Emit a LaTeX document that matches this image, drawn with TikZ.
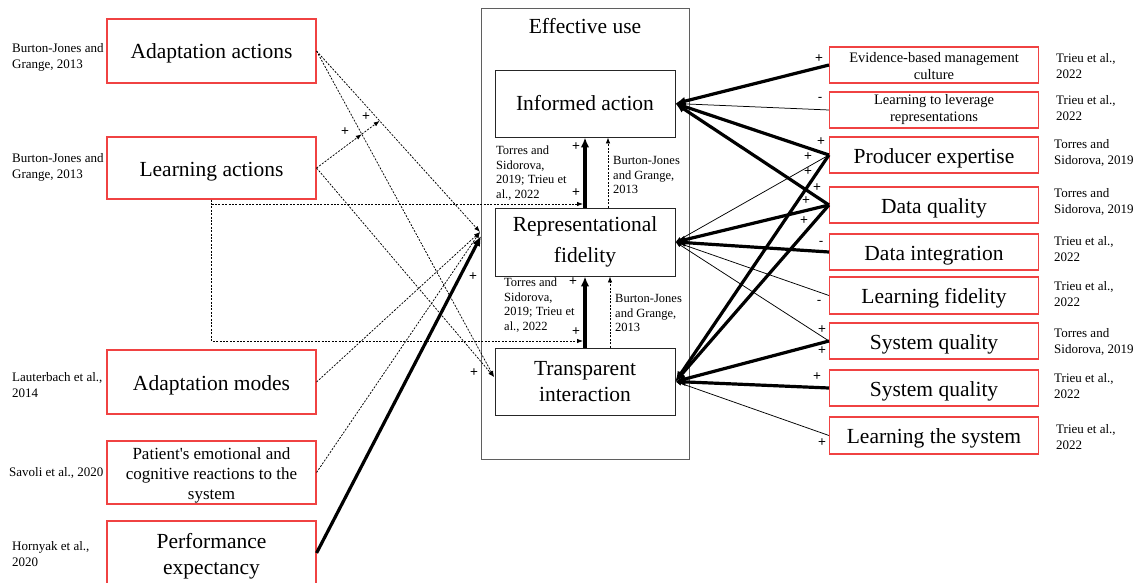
\documentclass[tikz,border=0pt]{standalone}
\usepackage{fontspec}
\setmainfont{Liberation Serif}[Ligatures=TeXOff]
\newfontfamily\signfont{Liberation Sans}
\usetikzlibrary{arrows.meta,calc}
\definecolor{boxred}{RGB}{240,66,66}
\definecolor{framegray}{RGB}{95,95,95}
% room above the first line of a box text, so that it sits a little lower
\newcommand\roomL{\rule{0pt}{20.7pt}}
\newcommand\roomM{\rule{0pt}{17.6pt}}
\newcommand\roomS{\rule{0pt}{13pt}}
\begin{document}
\begin{tikzpicture}[x=1pt,y=-1pt,
  redbox/.style={draw=boxred,line width=1.1pt,minimum width=209pt,inner sep=0pt,
    font=\fontsize{21.5}{26}\selectfont,text height=16pt,text depth=0pt},
  redboxml/.style={draw=boxred,line width=1.1pt,minimum width=209pt,inner sep=0pt,align=center,
    font=\fontsize{21.5}{26}\selectfont},
  midbox/.style={redboxml,font=\fontsize{17}{20}\selectfont},
  smallbox/.style={redboxml,font=\fontsize{14.5}{17}\selectfont},
  innerbox/.style={draw=black!85,line width=0.9pt,minimum width=180pt,inner sep=0pt,align=center,
    font=\fontsize{21.5}{28}\selectfont},
  cite/.style={anchor=west,align=left,inner sep=0pt,font=\fontsize{13}{16}\selectfont},
  note/.style={anchor=west,align=left,inner sep=0pt,font=\fontsize{12.5}{14.5}\selectfont},
  sign/.style={inner sep=0pt,font=\signfont\fontsize{13.5}{13.5}\selectfont},
  strong/.style={line width=3.2pt,-{Latex[length=10pt,width=8.5pt]}},
  weak/.style={line width=0.75pt,-{Latex[length=6pt,width=4.5pt]}},
  dotarr/.style={line width=0.75pt,dash pattern=on 2pt off 1.4pt,-{Latex[length=6pt,width=4.5pt]}},
]
\useasboundingbox (0,0) rectangle (1142,583);

% ---------- effective use frame ----------
\node[draw=framegray,line width=0.9pt,minimum width=208pt,minimum height=451pt,inner sep=0pt] (eu) at (585,233.5) {};
\node[inner sep=0pt,font=\fontsize{21.5}{26}\selectfont] (eutitle) at (585,26) {Effective use};
\node[innerbox,minimum height=67pt] (ia) at (585,103.5) {Informed action};
\node[innerbox,minimum height=68pt,font=\fontsize{21.5}{31}\selectfont] (rf) at (585,242) {Representational\\fidelity};
\node[innerbox,minimum height=67pt,font=\fontsize{21.5}{26.5}\selectfont] (ti) at (585,381.5) {Transparent\\interaction};

% ---------- left antecedents ----------
\node[redbox,minimum height=64pt] (aa) at (211.5,51) {Adaptation actions};
\node[redbox,minimum height=62pt] (la) at (211.5,168) {Learning actions};
\node[redbox,minimum height=64pt] (am) at (211.5,382) {Adaptation modes};
\node[midbox,minimum height=63pt] (pr) at (211.5,472.5) {\roomM Patient's emotional and\\cognitive reactions to the\\system};
\node[redboxml,minimum height=64pt] (pe) at (211.5,553) {\roomL Performance\\expectancy};

\node[cite] (c1) at (12,57) {Burton-Jones and\\Grange, 2013};
\node[cite] (c2) at (12,167) {Burton-Jones and\\Grange, 2013};
\node[cite] (c3) at (12,385) {Lauterbach et al.,\\2014};
\node[cite] (c4) at (9,473) {Savoli et al., 2020};
\node[cite] (c5) at (12,554) {Hornyak et al.,\\2020};

% ---------- right antecedents ----------
\node[smallbox,minimum height=36pt] (ebm) at (934,65) {\roomS Evidence-based management\\culture};
\node[smallbox,minimum height=36pt] (ltl) at (934,110) {Learning to leverage\\representations};
\node[redbox,minimum height=36pt] (pex) at (934,155) {Producer expertise};
\node[redbox,minimum height=36pt] (dq) at (934,205) {Data quality};
\node[redbox,minimum height=36pt] (di) at (934,252) {Data integration};
\node[redbox,minimum height=37pt] (lf) at (934,295.5) {Learning fidelity};
\node[redbox,minimum height=36pt] (sq1) at (934,341) {System quality};
\node[redbox,minimum height=36pt] (sq2) at (934,388) {System quality};
\node[redbox,minimum height=37pt] (lts) at (934,435.5) {Learning the system};

\node[cite] (r1) at (1056,66) {Trieu et al.,\\2022};
\node[cite] (r2) at (1056,108) {Trieu et al.,\\2022};
\node[cite] (r3) at (1054,153) {Torres and\\Sidorova, 2019};
\node[cite] (r4) at (1054,202) {Torres and\\Sidorova, 2019};
\node[cite] (r5) at (1054,249) {Trieu et al.,\\2022};
\node[cite] (r6) at (1054,294) {Trieu et al.,\\2022};
\node[cite] (r7) at (1054,342) {Torres and\\Sidorova, 2019};
\node[cite] (r8) at (1054,386) {Trieu et al.,\\2022};
\node[cite] (r9) at (1056,437) {Trieu et al.,\\2022};

% ---------- links inside the frame ----------
\draw[strong] (rf.north) -- (ia.south);
\draw[strong] (ti.north) -- (rf.south);
\draw[dotarr] ([xshift=23pt]rf.north) -- ([xshift=23pt]ia.south);
\draw[dotarr] ([xshift=25pt]ti.north) -- ([xshift=25pt]rf.south);

\node[note] (n1) at (496,173) {Torres and\\Sidorova,\\2019; Trieu et\\al., 2022};
\node[note] (n2) at (613,175) {Burton-Jones\\and Grange,\\2013};
\node[note] (n3) at (504,305) {Torres and\\Sidorova,\\2019; Trieu et\\al., 2022};
\node[note] (n4) at (615,313) {Burton-Jones\\and Grange,\\2013};

\node[sign] (s1) at (576,147) {+};
\node[sign] (s2) at (576,193) {+};
\node[sign] (s3) at (573,282) {+};
\node[sign] (s4) at (576,332) {+};

% learning actions moderate the two links inside the frame
\coordinate (mod1) at (583,204);
\coordinate (mod2) at (583,341);
\draw[dotarr] (la.south) -- (la.south |- mod2) -- (mod2);
\draw[dotarr] (la.south |- mod1) -- (mod1);

% ---------- links from the left ----------
\coordinate (rfin) at (480,232);
\coordinate (rfthick) at (481,236);
\coordinate (tiin) at (494,377);
\draw[dotarr] (aa.east) -- (rfin);
\draw[dotarr] (aa.east) -- (tiin);
\draw[dotarr] (la.east) -- (tiin);
\draw[dotarr] (am.east) -- (rfin);
\draw[dotarr] (pr.east) -- (rfin);
\draw[strong] (pe.east) -- (rfthick);

\coordinate (p1) at ($(aa.east)!0.255!(tiin)$);
\coordinate (p2) at (intersection of la.east--p1 and aa.east--rfin);
\draw[dotarr] (la.east) -- (p1);
\draw[dotarr] (p1) -- (p2);

\node[sign] (s5) at (345,132) {+};
\node[sign] (s6) at (366,117) {+};
\node[sign] (s7) at (473,277) {+};
\node[sign] (s8) at (474,373) {+};

% ---------- links from the right ----------
\draw[strong] (ebm.west) -- (ia.east);
\draw[weak] (ltl.west) -- (ia.east);
\draw[strong] (pex.west) -- (ia.east);
\draw[strong] (dq.west) -- (ia.east);

\draw[weak] (pex.west) -- (rf.east);
\draw[strong] (dq.west) -- (rf.east);
\draw[strong] (di.west) -- (rf.east);
\draw[weak] (lf.west) -- (rf.east);
\draw[weak] (sq1.west) -- (rf.east);

\draw[strong] (pex.west) -- (ti.east);
\draw[strong] (dq.west) -- (ti.east);
\draw[strong] (sq1.west) -- (ti.east);
\draw[strong] (sq2.west) -- (ti.east);
\draw[weak] (lts.west) -- (ti.east);

\node[sign] (t1) at (819,59) {+};
\node[sign] (t2) at (820,99) {-};
\node[sign] (t3) at (821,142) {+};
\node[sign] (t4) at (808,157) {+};
\node[sign] (t5) at (808,172) {+};
\node[sign] (t6) at (817,188) {+};
\node[sign] (t7) at (806,201) {+};
\node[sign] (t8) at (804,221) {+};
\node[sign] (t9) at (821,243) {-};
\node[sign] (t10) at (819,302) {-};
\node[sign] (t11) at (822,330) {+};
\node[sign] (t12) at (822,351) {+};
\node[sign] (t13) at (817,377) {+};
\node[sign] (t14) at (822,443) {+};
\end{tikzpicture}
\end{document}
